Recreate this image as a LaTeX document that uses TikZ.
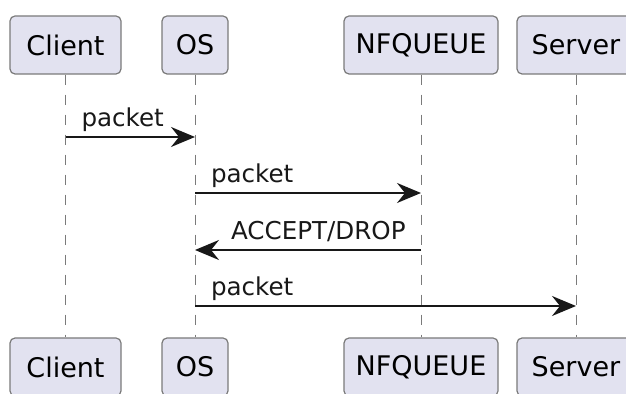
\documentclass[tikz,border=0pt]{standalone}
\usepackage{fontspec}
\setmainfont{DejaVu Sans}
\usetikzlibrary{arrows.meta}
\definecolor{pfill}{HTML}{E2E2F0}
\definecolor{pline}{HTML}{181818}
\definecolor{pedge}{HTML}{7A7A7A}

\begin{document}
\begin{tikzpicture}[
  x=0.5pt,y=-0.5pt,
  part/.style={draw=pedge,line width=0.6pt,rounded corners=2.5pt,fill=pfill,minimum height=29pt,inner sep=0pt,font=\fontsize{13.5}{16}\selectfont,text=black},
  life/.style={draw=pedge,line width=0.5pt,dash pattern=on 5pt off 5pt},
  msg/.style={-{Stealth[length=12pt,width=10pt,inset=4pt]},line width=1pt,pline},
  lbl/.style={anchor=base west,inner sep=0pt,font=\fontsize{12.3}{14}\selectfont,text=pline}]
  \useasboundingbox (0,0) rectangle (626,394);
  \clip (0,0) rectangle (626,394);
  % participants, top row
  \node[part,minimum width=55.5pt] (client) at (65.5,45) {Client};
  \node[part,minimum width=33pt] (os) at (195,45) {OS};
  \node[part,minimum width=77pt] (nfq) at (421,45) {NFQUEUE};
  \node[part,minimum width=59pt] (server) at (576,45) {Server};
  % participants, bottom row
  \node[part,minimum width=55.5pt] (clientb) at (65.5,367) {Client};
  \node[part,minimum width=33pt] (osb) at (195,367) {OS};
  \node[part,minimum width=77pt] (nfqb) at (421,367) {NFQUEUE};
  \node[part,minimum width=59pt] (serverb) at (576,367) {Server};
  % lifelines
  \draw[life] (client) -- (clientb);
  \draw[life] (os) -- (osb);
  \draw[life] (nfq) -- (nfqb);
  \draw[life] (server) -- (serverb);
  % message rows
  \coordinate (m1) at (0,137);
  \coordinate (m2) at (0,193);
  \coordinate (m3) at (0,250);
  \coordinate (m4) at (0,306);
  \draw[msg] (client |- m1) -- (os |- m1) node[lbl,at start,xshift=7.5pt,yshift=5pt] {packet};
  \draw[msg] (os |- m2) -- (nfq |- m2) node[lbl,at start,xshift=7.5pt,yshift=5pt] {packet};
  \draw[msg] (nfq |- m3) -- (os |- m3) node[lbl,at end,xshift=17.5pt,yshift=5pt] {ACCEPT/DROP};
  \draw[msg] (os |- m4) -- (server |- m4) node[lbl,at start,xshift=7.5pt,yshift=5pt] {packet};
\end{tikzpicture}
\end{document}
